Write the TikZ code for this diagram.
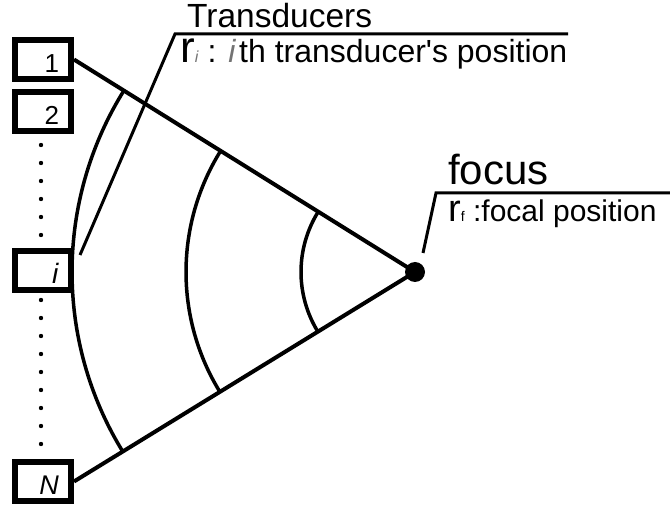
\documentclass[tikz,border=0pt]{standalone}
\usepackage{fontspec}
\setmainfont{Liberation Sans}
\tikzset{
  elem/.style={draw,line width=6pt,minimum width=56pt,minimum height=39pt,
    inner sep=0pt,text width=32pt,align=right,text height=26pt,
    text depth=0pt,font=\fontsize{26}{26}\selectfont},
  ray/.style={line width=4pt},
  front/.style={line width=3.5pt},
  leader/.style={line width=3pt},
  caption/.style={anchor=base west,inner sep=0pt}
}

\begin{document}
\begin{tikzpicture}[x=1pt,y=1pt]
    \useasboundingbox (0,0) rectangle (670,509);
    \node[elem] (b1) at (43,449.5) {1};
    \node[elem] (b2) at (43,397) {2};
    \node[elem] (bi) at (43,238.5) {\fontsize{28}{28}\selectfont\textit{i}};
    \node[elem] (bN) at (43,27.5) {\fontsize{27}{27}\selectfont\textit{N}};
    \foreach \y in {364,346,...,274}
      \fill (41,\y) circle (2.2);
    \foreach \y in {209,191,...,65}
      \fill (41,\y) circle (2.2);
    \node[circle,fill,inner sep=0pt,minimum size=20pt] (f) at (415,237) {};
    \draw[ray] (b1.east) -- (f.center) -- (bN.east);
    \foreach \r in {343,229,114}
      \draw[front] ([shift={(148.07:\r)}]f.center)
        arc[start angle=148.07,end angle=211.56,radius=\r];
    \node[caption,font=\fontsize{33.5}{33.5}\selectfont] (tlab) at (187,481)
      {Transducers};
    \node[caption,font=\fontsize{32}{32}\selectfont] (tpos) at (180,446)
      {{\fontsize{44}{44}\selectfont r}{\fontsize{16}{16}\selectfont
      \color{black!55}\textit{i}} : {\color{black!55}\textit{i}}\hspace{3pt}th
      transducer\textquotesingle s position};
    \coordinate (tfoot) at (80,254);
    \coordinate (tcorner) at (175,475);
    \coordinate (tend) at (568,475);
    \draw[leader] (tfoot) -- (tcorner) -- (tend);
    \node[caption,font=\fontsize{42}{42}\selectfont] (flab) at (448,324)
      {focus};
    \node[caption,font=\fontsize{30}{30}\selectfont] (fpos) at (448,287)
      {{\fontsize{38}{38}\selectfont r}{\fontsize{14}{14}\selectfont f}
      :focal position};
    \coordinate (ffoot) at (423,256);
    \coordinate (fcorner) at (436,316);
    \coordinate (fend) at (670,316);
    \draw[leader] (ffoot) -- (fcorner) -- (fend);
  \end{tikzpicture}
\end{document}
